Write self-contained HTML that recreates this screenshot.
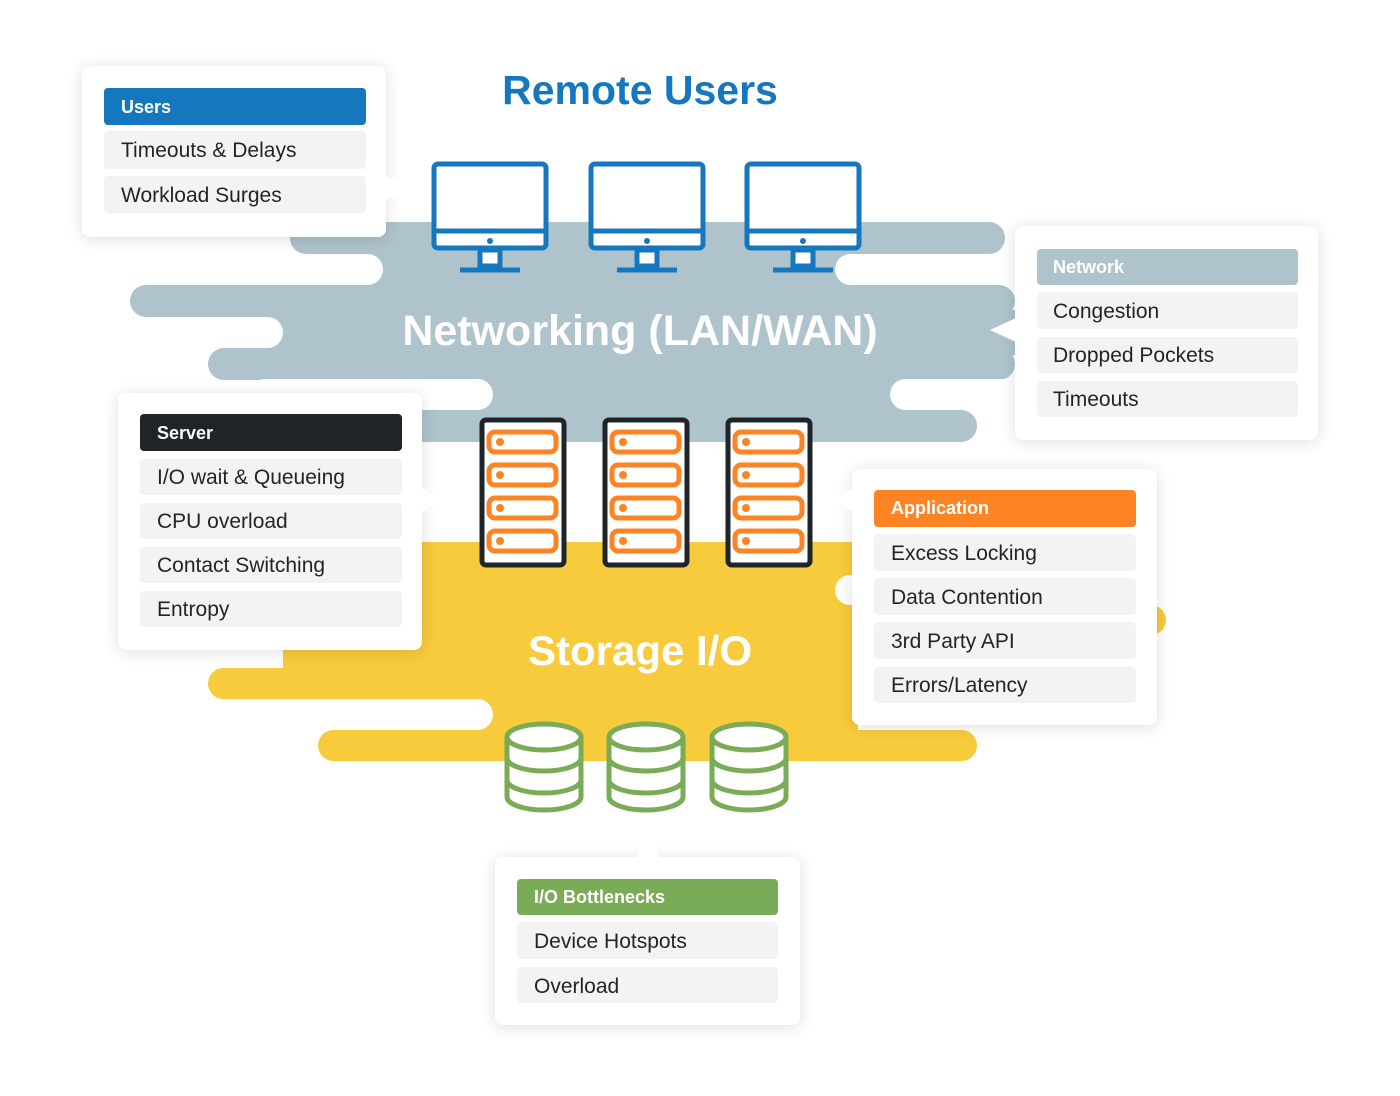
<!DOCTYPE html>
<html><head><meta charset="utf-8"><style>
body{margin:0;background:#fff;width:1400px;height:1091px;overflow:hidden}
svg text{font-family:"Liberation Sans",sans-serif}
</style></head><body>
<svg width="1400" height="1091" viewBox="0 0 1400 1091" xmlns="http://www.w3.org/2000/svg">
<defs><filter id="sh" x="-20%" y="-20%" width="140%" height="140%"><feGaussianBlur stdDeviation="8"/></filter></defs>
<!-- gray cloud -->
<g fill="#aec3cc">
<rect x="290" y="222" width="715" height="32" rx="16"/>
<rect x="340" y="250" width="650" height="40"/>
<rect x="130" y="285" width="885" height="32" rx="16"/>
<rect x="240" y="310" width="775" height="45"/>
<rect x="208" y="348" width="807" height="32" rx="16"/>
<rect x="400" y="375" width="550" height="40"/>
<rect x="318" y="410" width="659" height="32" rx="16"/>
</g>
<g fill="#fff">
<rect x="200" y="254" width="183" height="31" rx="15.5"/>
<rect x="835" y="254" width="300" height="31" rx="15.5"/>
<rect x="100" y="317" width="183" height="31" rx="15.5"/>
<rect x="250" y="379" width="243" height="31" rx="15.5"/>
<rect x="890" y="379" width="200" height="31" rx="15.5"/>
</g>
<!-- yellow cloud -->
<g fill="#f8cb3c">
<rect x="410" y="542" width="640" height="70"/>
<rect x="283" y="605" width="770" height="68"/>
<rect x="1100" y="605" width="66" height="30" rx="15"/>
<rect x="208" y="668" width="940" height="31" rx="15.5"/>
<rect x="400" y="694" width="458" height="40"/>
<rect x="318" y="730" width="659" height="31" rx="15.5"/>
</g>
<g fill="#fff">
<rect x="835" y="575" width="60" height="30" rx="15"/>
<rect x="150" y="699" width="343" height="31" rx="15.5"/>
</g>
<text x="640" y="345" text-anchor="middle" font-size="43" font-weight="bold" fill="#fff">Networking (LAN/WAN)</text>
<text x="640" y="665" text-anchor="middle" font-size="42" font-weight="bold" fill="#fff">Storage I/O</text>
<text x="640" y="104" text-anchor="middle" font-size="41" font-weight="bold" fill="#1577be">Remote Users</text>
<!-- monitors -->
<g fill="none" stroke="#1577be" stroke-width="5">
<g id="mon"><rect x="434" y="164" width="112" height="84" rx="4" fill="#fff"/><line x1="434" y1="231" x2="546" y2="231"/><rect x="480" y="250" width="20" height="16" fill="#fff"/><line x1="460" y1="270" x2="520" y2="270"/><circle cx="490" cy="241" r="3" fill="#1577be" stroke="none"/></g>
<use href="#mon" x="157"/><use href="#mon" x="313"/>
</g>
<!-- servers -->
<g>
<g id="srv"><rect x="482" y="420" width="82" height="145" rx="4" fill="#fff" stroke="#1f2428" stroke-width="5"/>
<g fill="#fff" stroke="#fd8424" stroke-width="5"><rect x="489" y="432" width="67" height="20" rx="6"/><rect x="489" y="465" width="67" height="20" rx="6"/><rect x="489" y="498" width="67" height="20" rx="6"/><rect x="489" y="531" width="67" height="20" rx="6"/></g>
<g fill="#fd8424"><circle cx="500" cy="442" r="4"/><circle cx="500" cy="475" r="4"/><circle cx="500" cy="508" r="4"/><circle cx="500" cy="541" r="4"/></g></g>
<use href="#srv" x="123"/><use href="#srv" x="246"/>
</g>
<!-- databases -->
<g fill="#fff" stroke="#7aab56" stroke-width="5">
<g id="db"><path d="M507 737 V797 A37 13 0 0 0 581 797 V737"/><ellipse cx="544" cy="737" rx="37" ry="13"/><path d="M507 758 A37 13 0 0 0 581 758 M507 780 A37 13 0 0 0 581 780" fill="none"/></g>
<use href="#db" x="102"/><use href="#db" x="205"/>
</g>
<!-- boxes -->
<g fill="#000" opacity="0.13" filter="url(#sh)">
<rect x="82" y="68" width="304" height="171" rx="8"/><rect x="1015" y="228" width="303" height="214" rx="8"/>
<rect x="118" y="395" width="304" height="257" rx="8"/><rect x="852" y="471" width="305" height="256" rx="8"/>
<rect x="495" y="859" width="305" height="168" rx="8"/>
</g>
<g fill="#fff">
<rect x="82" y="66" width="304" height="171" rx="8"/><path d="M385 176 L410 188 L385 200Z"/>
<rect x="1015" y="226" width="303" height="214" rx="8"/><path d="M1016 318 L990 330 L1016 342Z"/>
<rect x="118" y="393" width="304" height="257" rx="8"/><path d="M421 488 L446 500 L421 512Z"/>
<rect x="852" y="469" width="305" height="256" rx="8"/><path d="M853 488 L828 500 L853 512Z"/>
<rect x="495" y="857" width="305" height="168" rx="8"/><path d="M636 858 L648 834 L660 858Z"/>
</g>
<g fill="#f3f3f3">
<rect x="104" y="131" width="262" height="38" rx="4"/><rect x="104" y="176" width="262" height="37" rx="4"/>
<rect x="1037" y="292" width="261" height="37" rx="4"/><rect x="1037" y="337" width="261" height="36" rx="4"/><rect x="1037" y="381" width="261" height="36" rx="4"/>
<rect x="140" y="459" width="262" height="36" rx="4"/><rect x="140" y="503" width="262" height="36" rx="4"/><rect x="140" y="547" width="262" height="36" rx="4"/><rect x="140" y="591" width="262" height="36" rx="4"/>
<rect x="874" y="534" width="262" height="37" rx="4"/><rect x="874" y="578" width="262" height="37" rx="4"/><rect x="874" y="622" width="262" height="37" rx="4"/><rect x="874" y="667" width="262" height="36" rx="4"/>
<rect x="517" y="922" width="261" height="37" rx="4"/><rect x="517" y="967" width="261" height="36" rx="4"/>
</g>
<rect x="104" y="88" width="262" height="37" rx="4" fill="#1577be"/>
<rect x="1037" y="249" width="261" height="36" rx="4" fill="#aec3cc"/>
<rect x="140" y="414" width="262" height="37" rx="4" fill="#1f2428"/>
<rect x="874" y="490" width="262" height="37" rx="4" fill="#fd8424"/>
<rect x="517" y="879" width="261" height="36" rx="4" fill="#7aab56"/>
<g font-size="18" font-weight="bold" fill="#fff">
<text x="121" y="113">Users</text><text x="1053" y="273">Network</text><text x="157" y="439">Server</text><text x="891" y="514">Application</text><text x="534" y="903">I/O Bottlenecks</text>
</g>
<g font-size="21" fill="#1f2428">
<text x="121" y="157">Timeouts &amp; Delays</text><text x="121" y="202">Workload Surges</text>
<text x="1053" y="318">Congestion</text><text x="1053" y="362">Dropped Pockets</text><text x="1053" y="406">Timeouts</text>
<text x="157" y="484">I/O wait &amp; Queueing</text><text x="157" y="528">CPU overload</text><text x="157" y="572">Contact Switching</text><text x="157" y="616">Entropy</text>
<text x="891" y="560">Excess Locking</text><text x="891" y="604">Data Contention</text><text x="891" y="648">3rd Party API</text><text x="891" y="692">Errors/Latency</text>
<text x="534" y="948">Device Hotspots</text><text x="534" y="993">Overload</text>
</g>
</svg>
</body></html>
